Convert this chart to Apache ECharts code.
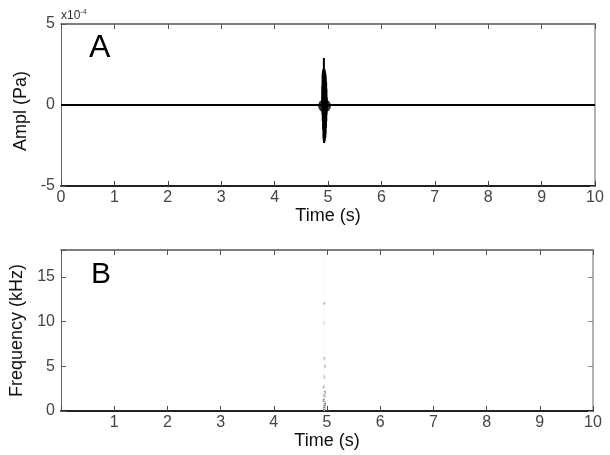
<!DOCTYPE html>
<html>
<head>
<meta charset="utf-8">
<script src="https://cdn.jsdelivr.net/npm/echarts@6/dist/echarts.min.js"></script>
<style>
  html, body { margin: 0; padding: 0; background: #fff; }
  #main { width: 610px; height: 455px; }
</style>
</head>
<body>
<div id="main"></div>
<script>
// waveform (A), amplitude in units of 1e-4 Pa
const waveTime = [0, 4.890, 4.893, 4.896, 4.899, 4.902, 4.905, 4.908, 4.911, 4.914, 4.917, 4.920, 4.923, 4.926, 4.929, 4.932, 4.935, 4.938, 4.941, 4.944, 4.947, 4.950, 4.953, 4.956, 4.959, 4.962, 4.965, 4.968, 4.971, 4.974, 4.977, 4.980, 4.984, 10];
const waveAmpl = [0, 0, 1.2, -0.6, 1.9, -1.0, 2.1, -1.5, 2.2, -2.0, 2.2, -2.2, 2.9, -2.35, 2.2, -2.3, 2.2, -2.2, 2.1, -2.1, 2.0, -2.0, 1.9, -1.8, 1.7, -1.4, 1.4, -1.0, 1.0, -0.6, 0.5, -0.2, 0, 0];
const blobTime = [4.935];
const blobAmpl = [-0.05];

// spectrogram traces (B), frequency in kHz
const specTime = [4.95, 4.94, 4.95, 4.96, 4.95, 4.94, 4.96, 4.95, 4.94, 4.96, 4.95, 4.95];
const specFreq = [12.0, 9.8, 5.9, 5.0, 3.8, 2.7, 2.1, 1.7, 1.2, 0.8, 0.5, 0.2];
const specLevel = [0.45, 0.15, 0.35, 0.4, 0.4, 0.45, 0.6, 0.7, 0.8, 0.85, 0.9, 0.9];
const streakTime = [4.95, 4.95];
const streakFreq = [0, 17.5];

const chart = echarts.init(document.getElementById('main'), null, { renderer: 'canvas' });

const FONT = '"Liberation Sans", Arial, sans-serif';

function bottomAxis(gridIndex, hideZero) {
  return {
    type: 'value', gridIndex: gridIndex, position: 'bottom',
    min: 0, max: 10, interval: 1,
    axisLine: { show: true, onZero: false, lineStyle: { color: '#222', width: 2 } },
    axisTick: { show: true, inside: true, length: 5, lineStyle: { color: '#444' } },
    axisLabel: {
      color: '#444', fontSize: 16, fontFamily: FONT, margin: 4,
      formatter: function (v) { return (hideZero && v === 0) ? '' : String(v); }
    },
    splitLine: { show: false },
    name: 'Time (s)', nameLocation: 'middle', nameGap: 18,
    nameTextStyle: { color: '#111', fontSize: 18, fontFamily: FONT, verticalAlign: 'top' }
  };
}

function topAxis(gridIndex) {
  return {
    type: 'value', gridIndex: gridIndex, position: 'top',
    min: 0, max: 10, interval: 1,
    axisLine: { show: true, onZero: false, lineStyle: { color: '#555', width: 1.5 } },
    axisTick: { show: true, inside: true, length: 5, lineStyle: { color: '#555' } },
    axisLabel: { show: false },
    splitLine: { show: false }
  };
}

const option = {
  animation: false,
  backgroundColor: '#fff',
  grid: [
    { left: 61, top: 24, width: 534, height: 162 },
    { left: 61, top: 250, width: 532, height: 161 }
  ],
  xAxis: [bottomAxis(0, false), topAxis(0), bottomAxis(1, true), topAxis(1)],
  yAxis: [
    {
      type: 'value', gridIndex: 0, position: 'left',
      min: -5, max: 5, interval: 5,
      axisLine: { show: true, onZero: false, lineStyle: { color: '#666', width: 1 } },
      axisTick: { show: true, inside: true, length: 5, lineStyle: { color: '#555' } },
      axisLabel: { color: '#444', fontSize: 16, fontFamily: FONT, margin: 6 },
      splitLine: { show: false },
      name: 'Ampl (Pa)', nameLocation: 'middle', nameGap: 26,
      nameTextStyle: { color: '#111', fontSize: 18, fontFamily: FONT, padding: [0, 12, 0, 0] }
    },
    {
      type: 'value', gridIndex: 0, position: 'right',
      min: -5, max: 5, interval: 5,
      axisLine: { show: true, onZero: false, lineStyle: { color: '#999', width: 1.5 } },
      axisTick: { show: true, inside: true, length: 5, lineStyle: { color: '#888' } },
      axisLabel: { show: false },
      splitLine: { show: false }
    },
    {
      type: 'value', gridIndex: 1, position: 'left',
      min: 0, max: 18, interval: 5,
      axisLine: { show: true, onZero: false, lineStyle: { color: '#666', width: 1 } },
      axisTick: { show: true, inside: true, length: 5, lineStyle: { color: '#555' } },
      axisLabel: {
        color: '#444', fontSize: 16, fontFamily: FONT, margin: 6,
        formatter: function (v) { return v % 5 === 0 ? String(v) : ''; }
      },
      splitLine: { show: false },
      name: 'Frequency (kHz)', nameLocation: 'middle', nameGap: 27,
      nameTextStyle: { color: '#111', fontSize: 18, fontFamily: FONT }
    },
    {
      type: 'value', gridIndex: 1, position: 'right',
      min: 0, max: 18, interval: 5,
      axisLine: { show: true, onZero: false, lineStyle: { color: '#999', width: 1.5 } },
      axisTick: { show: true, inside: true, length: 5, lineStyle: { color: '#888' } },
      axisLabel: { show: false },
      splitLine: { show: false }
    }
  ],
  visualMap: {
    show: false, seriesIndex: 3, dimension: 2, min: 0, max: 1,
    inRange: { color: ['#f2f2f2', '#444444'] }
  },
  graphic: [
    {
      type: 'text', left: 61, top: 9,
      style: {
        text: '{b|x10}{s|-4}', fill: '#333', font: '12px ' + FONT,
        rich: { b: { fontSize: 12, fontFamily: FONT, fill: '#333' }, s: { fontSize: 7, fontFamily: FONT, fill: '#333', verticalAlign: 'top', padding: [0, 0, 7, 0] } }
      }
    },
    { type: 'text', left: 89, top: 32, style: { text: 'A', fill: '#000', font: '32px ' + FONT } },
    { type: 'text', left: 91, top: 260, style: { text: 'B', fill: '#000', font: '30px ' + FONT } }
  ],
  series: [
    {
      type: 'line', xAxisIndex: 0, yAxisIndex: 0, showSymbol: false,
      lineStyle: { color: '#000', width: 2 },
      data: waveTime.map((t, i) => [t, waveAmpl[i]])
    },
    {
      type: 'scatter', xAxisIndex: 0, yAxisIndex: 0, symbol: 'circle', symbolSize: 13,
      itemStyle: { color: '#000' },
      data: blobTime.map((t, i) => [t, blobAmpl[i]])
    },
    {
      type: 'line', xAxisIndex: 2, yAxisIndex: 2, showSymbol: false,
      lineStyle: { color: '#f0f0f0', width: 1, type: 'dotted' },
      data: streakTime.map((t, i) => [t, streakFreq[i]])
    },
    {
      type: 'scatter', xAxisIndex: 2, yAxisIndex: 2, symbol: 'rect', symbolSize: [2, 3],
      data: specTime.map((t, i) => [t, specFreq[i], specLevel[i]])
    }
  ]
};

chart.setOption(option);
</script>
</body>
</html>
